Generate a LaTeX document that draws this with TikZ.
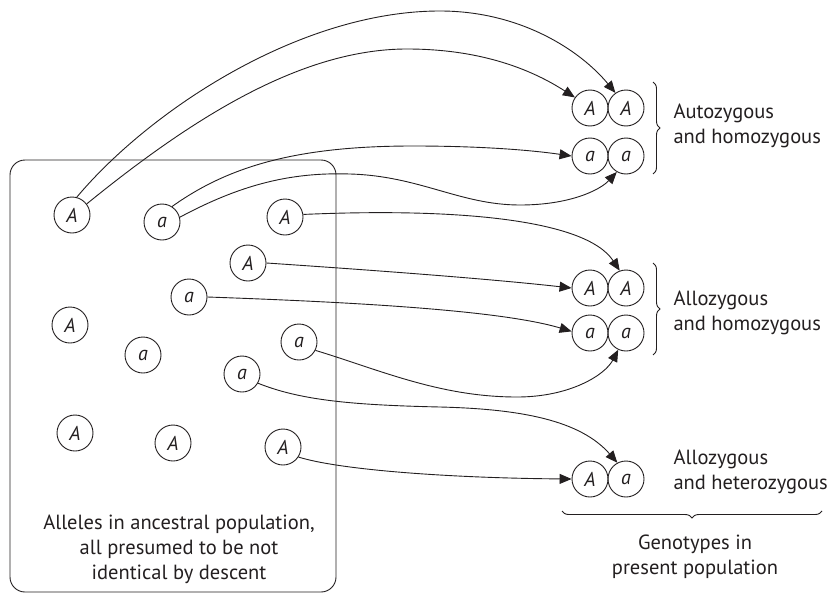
\documentclass[tikz,border=0pt]{standalone}
\usepackage{fontspec}
\setmainfont{PT Sans}
\usetikzlibrary{arrows.meta,decorations.pathreplacing}
\definecolor{ink}{HTML}{231F20}
\begin{document}
\begin{tikzpicture}[x=1pt,y=-1pt,
  allele/.style={circle,draw=ink,line width=0.9pt,minimum size=36pt,inner sep=0pt,
    text=ink,font=\fontsize{20}{20}\selectfont\itshape},
  link/.style={draw=ink,line width=0.9pt,-{Triangle[length=12pt,width=10pt]}},
  note/.style={text=ink,font=\fontsize{20.5}{25}\selectfont,align=left,anchor=west},
  centred/.style={text=ink,font=\fontsize{20.5}{25}\selectfont,align=center},
  groupbrace/.style={draw=ink,line width=0.9pt,decorate,decoration={brace,amplitude=7pt}}]
\useasboundingbox (0,0) rectangle (834,594);

% ancestral population
\draw[draw=ink,line width=0.9pt,rounded corners=15pt] (10,160) rectangle (336,592);
\node[centred] (anc) at (179,549) {Alleles in ancestral population,\\all presumed to be not\\identical by descent};

\node[allele] (A1) at (72,215) {A};
\node[allele] (a1) at (162,222) {a};
\node[allele] (A2) at (285,217) {A};
\node[allele] (A3) at (248,263) {A};
\node[allele] (a2) at (189,297) {a};
\node[allele] (A4) at (70,325) {A};
\node[allele] (a3) at (143,355) {a};
\node[allele] (a4) at (299,342) {a};
\node[allele] (a5) at (242,374) {a};
\node[allele] (A5) at (75,433) {A};
\node[allele] (A6) at (173,443) {A};
\node[allele] (A7) at (283,447) {A};

% genotypes in the present population
\node[allele] (tAl) at (590,108) {A};
\node[allele] (tAr) at (626,108) {A};
\node[allele] (tal) at (590,156) {a};
\node[allele] (tar) at (626,156) {a};
\node[allele] (mAl) at (590,288) {A};
\node[allele] (mAr) at (626,288) {A};
\node[allele] (mal) at (590,333) {a};
\node[allele] (mar) at (626,333) {a};
\node[allele] (hAl) at (590,479) {A};
\node[allele] (har) at (626,479) {a};

% lines of descent
\draw[link] (A1.75) .. controls (150,110) and (300,11) .. (440,11)
  .. controls (520,11) and (580,50) .. (tAr.125);
\draw[link] (A1.37) .. controls (190,120) and (300,49) .. (407,49)
  .. controls (490,49) and (540,75) .. (tAl.145);
\draw[link] (a1.57) .. controls (230,165) and (300,146) .. (413,146)
  .. controls (480,146) and (530,150) .. (tal.180);
\draw[link] (a1.15) .. controls (240,185) and (290,172) .. (350,174)
  .. controls (420,176) and (460,205) .. (520,205)
  .. controls (570,205) and (600,190) .. (tar.240);
\draw[link] (A2.8) .. controls (450,208) and (585,218) .. (mAr.110);
\draw[link] (A3.0) .. controls (400,272) and (500,280) .. (mAl.180);
\draw[link] (a2.0) .. controls (350,302) and (500,310) .. (mal.175);
\draw[link] (a4.-27) .. controls (380,370) and (440,397) .. (517,397)
  .. controls (570,397) and (605,375) .. (mar.245);
\draw[link] (a5.-30) .. controls (300,400) and (350,405) .. (440,407)
  .. controls (520,409) and (580,420) .. (har.118);
\draw[link] (A7.-33) .. controls (340,470) and (450,478) .. (hAl.180);

% groupings
\draw[groupbrace] (653,82) -- (653,174);
\draw[groupbrace] (653,263) -- (653,355);
\draw[groupbrace] (822,511) -- (562,511);

\node[note] (auto) at (670,126) {Autozygous\\and homozygous};
\node[note] (allo) at (670,313) {Allozygous\\and homozygous};
\node[note] (het) at (670,472) {Allozygous\\and heterozygous};
\node[centred] (geno) at (695,557) {Genotypes in\\present population};
\end{tikzpicture}
\end{document}
